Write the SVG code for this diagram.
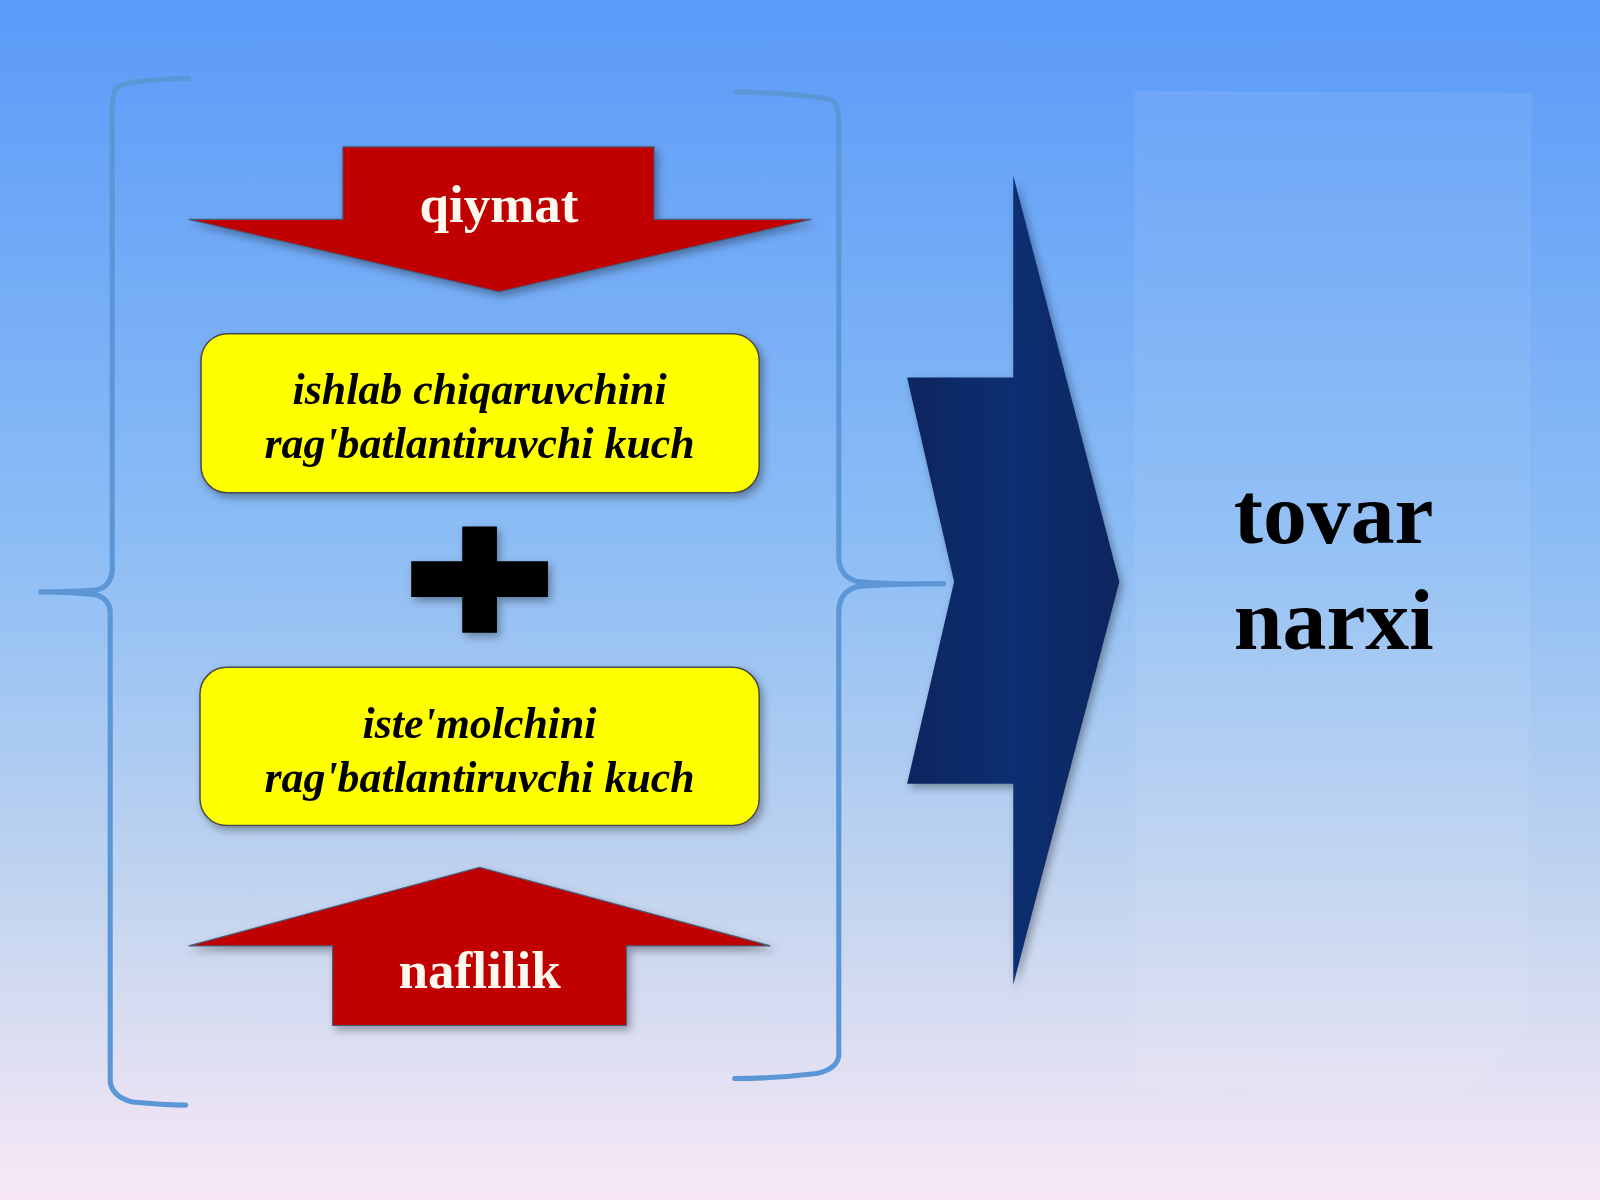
<svg xmlns="http://www.w3.org/2000/svg" width="1600" height="1200" viewBox="0 0 1600 1200">
<defs>
<linearGradient id="bg" x1="0" y1="0" x2="0" y2="1">
<stop offset="0" stop-color="#5a9af8"/>
<stop offset="0.45" stop-color="#8cbdf5"/>
<stop offset="0.75" stop-color="#c3d5ef"/>
<stop offset="1" stop-color="#f8e8f6"/>
</linearGradient>
<linearGradient id="navy" x1="0" y1="0" x2="1" y2="0">
<stop offset="0" stop-color="#0a2660"/>
<stop offset="0.5" stop-color="#102f70"/>
<stop offset="1" stop-color="#0a2660"/>
</linearGradient>
<filter id="sh" x="-10%" y="-10%" width="130%" height="130%">
<feDropShadow dx="3" dy="4" stdDeviation="4" flood-color="#000" flood-opacity="0.35"/>
</filter>
</defs>
<style>
.brace{fill:none;stroke:#5b96d6;stroke-width:5;stroke-linecap:round;stroke-linejoin:round}
.red{fill:#c00000;stroke:#4a5a78;stroke-width:1.2}
.box{fill:#ffff00;stroke:#4a4a4a;stroke-width:1.5}
.lbl{font-family:"Liberation Serif","Times New Roman",serif;font-weight:bold;fill:#fff8ee;font-size:52px;text-anchor:middle}
.it{font-family:"Liberation Serif","Times New Roman",serif;font-weight:bold;font-style:italic;fill:#000;font-size:43px;text-anchor:middle}
.big{font-family:"Liberation Serif","Times New Roman",serif;font-weight:bold;fill:#000;font-size:86px;text-anchor:middle}
</style>
<rect x="0" y="0" width="1600" height="1200" fill="url(#bg)"/>
<g transform="scale(1.020408)">
<g id="panel">
<path d="M1113,90 L1500,92 L1497,1010 L1435,1070 L1113,1068 Z" fill="#ffffff" fill-opacity="0.07" stroke="#ffffff" stroke-opacity="0.05" stroke-width="2"/>
</g>
<g id="connectors">
<path class="brace" d="M185,77 Q130,78 115,85 Q110,90 110,110 L110,560 Q108,575 95,578 Q70,580 40,580 Q72,580 95,583 Q108,588 108,600 L108,1060 Q110,1075 130,1080 Q160,1083 182,1083"/>
<path class="brace" d="M722,90 Q790,92 815,98 Q822,102 822,120 L822,545 Q822,565 840,570 Q870,573 925,572 Q870,572 840,575 Q822,580 822,600 L822,1035 Q820,1048 800,1052 Q760,1057 720,1057"/>
</g>
<g id="arrow-qiymat" filter="url(#sh)">
<path class="red" d="M336,144 L641,144 L641,215 L795,215 L489,286 L185,215 L336,215 Z"/>
<text class="lbl" x="489" y="218">qiymat</text>
</g>
<g id="box-producer" filter="url(#sh)">
<rect class="box" x="197" y="327" width="547" height="156" rx="26"/>
<text class="it" x="470" y="396">ishlab chiqaruvchini</text>
<text class="it" x="470" y="449">rag'batlantiruvchi kuch</text>
</g>
<g id="plus" filter="url(#sh)">
<path d="M453,516 L487,516 L487,550 L537,550 L537,585 L487,585 L487,620 L453,620 L453,585 L403,585 L403,550 L453,550 Z" fill="#000"/>
</g>
<g id="box-consumer" filter="url(#sh)">
<rect class="box" x="196" y="654" width="548" height="155" rx="26"/>
<text class="it" x="470" y="723">iste'molchini</text>
<text class="it" x="470" y="776">rag'batlantiruvchi kuch</text>
</g>
<g id="arrow-naflilik" filter="url(#sh)">
<path class="red" d="M470,850 L755,927 L614,927 L614,1005 L326,1005 L326,927 L185,927 Z"/>
<text class="lbl" x="470" y="968">naflilik</text>
</g>
<g id="big-arrow" filter="url(#sh)">
<path d="M993,172 L1097,570 L993,965 L993,768 L889,768 L935,570 L889,370 L993,370 Z" fill="url(#navy)"/>
</g>
<g id="result">
<text class="big" x="1307" y="532">tovar</text>
<text class="big" x="1307" y="636">narxi</text>
</g>
</g>
</svg>
